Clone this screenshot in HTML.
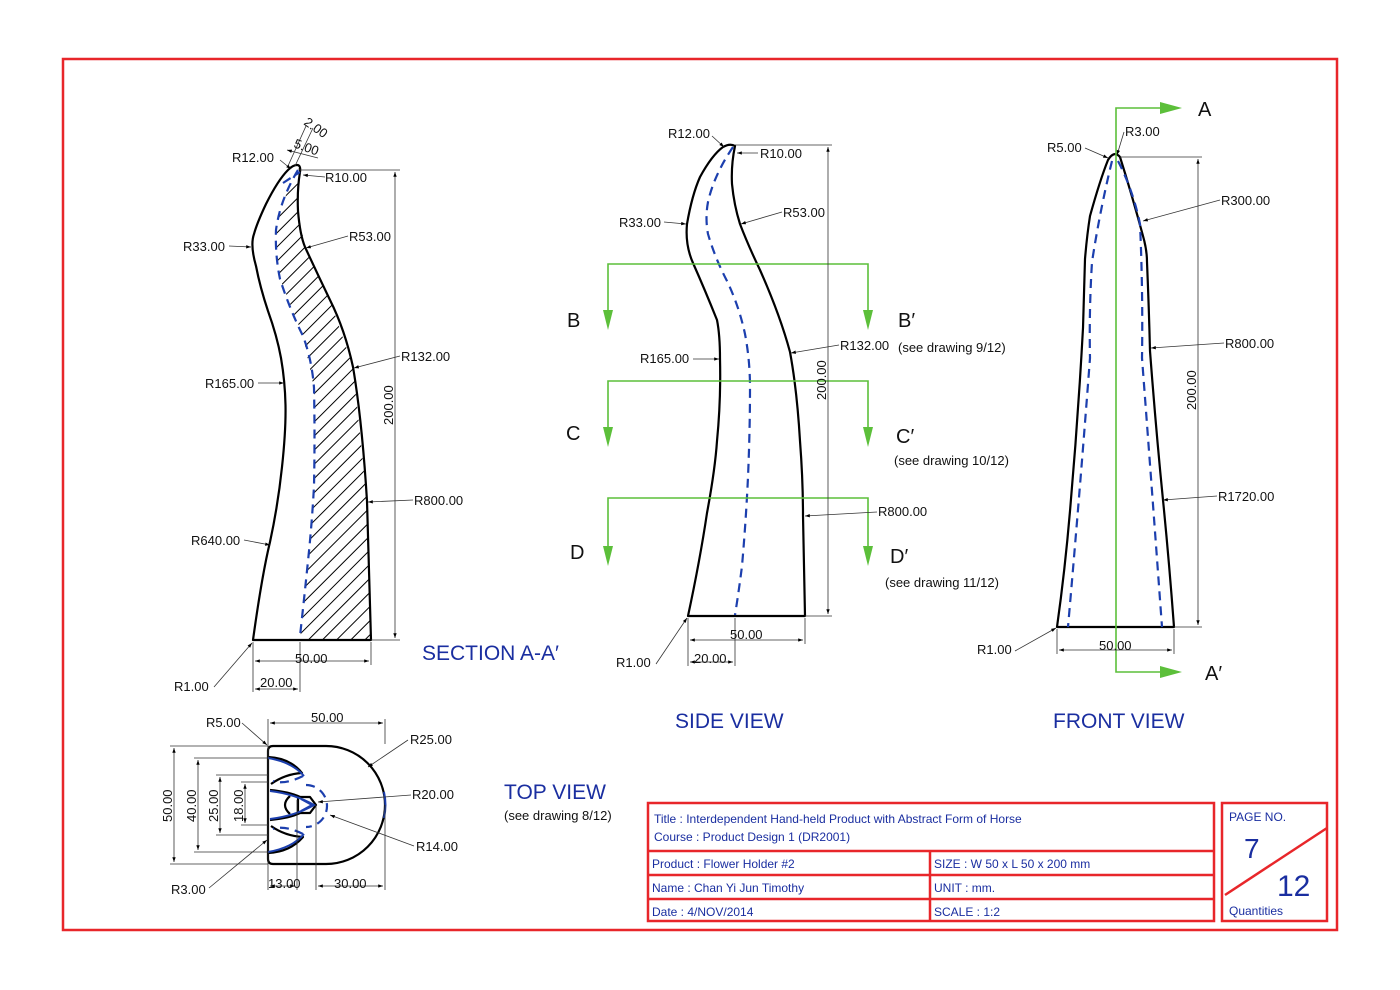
<!DOCTYPE html>
<html><head><meta charset="utf-8"><style>
html,body{margin:0;padding:0;background:#fff}
svg{display:block}
.d{font-family:"Liberation Sans",sans-serif;font-size:13px;fill:#111}
.t{font-family:"Liberation Sans",sans-serif;fill:#1a2ea0}
.k{fill:none;stroke:#000;stroke-width:2.2;stroke-linejoin:round}
.b{fill:none;stroke:#1c3fae;stroke-width:2.2;stroke-dasharray:9 6}
.l{fill:none;stroke:#333;stroke-width:0.8}
.g{fill:none;stroke:#5cbf3a;stroke-width:1.6}
.r{fill:none;stroke:#e8262a;stroke-width:2.5}
</style></head><body>
<svg width="1400" height="990" viewBox="0 0 1400 990" xmlns="http://www.w3.org/2000/svg">
<defs>
<marker id="a" viewBox="0 0 10 10" refX="10" refY="5" markerWidth="8" markerHeight="6" orient="auto-start-reverse"><path d="M0,1.5 L10,5 L0,8.5z" fill="#000"/></marker>
<pattern id="h" width="10" height="10" patternUnits="userSpaceOnUse" patternTransform="rotate(45)"><line x1="0" y1="0" x2="0" y2="10" stroke="#000" stroke-width="2"/></pattern>
<clipPath id="hc"><path d="M299,168 L286,195 L275,230 L280,279 L303,336 L314,388 L314,486 L308,561 L300,640 L371,640 L367,501 L353,367 L330,300 L305,247 L298,211 L300,168Z"/></clipPath>
</defs>
<rect x="63" y="59" width="1274" height="871" class="r" stroke-width="2"/>

<!-- SECTION A-A' -->
<rect x="240" y="150" width="150" height="500" fill="url(#h)" clip-path="url(#hc)"/>
<path class="k" d="M253,640 Q262,575 270,542 Q278,505 282,467 Q286,430 285.5,405 Q285,381 281,358 Q277,336 268,311 Q260,287 256,266 Q250,245 254,234 Q257,223 266,204 Q278,180 288,170 Q293,165 297,165 Q301,165 300,172 Q297,190 298,211 Q300,235 305,247 Q317,273 330,300 Q345,330 353,367 Q362,420 367,501 L371,640 Z"/>
<path class="b" d="M298,170 Q280,200 276,230 Q275,255 280,279 Q290,310 303,336 Q312,360 314,388 Q315,437 314,486 Q312,523 308,561 Q304,600 300,636"/>
<path class="b" d="M283,183 L300,172" stroke-dasharray="5 3"/>
<g class="l">
<line x1="300" y1="170" x2="400" y2="170"/><line x1="371" y1="640" x2="400" y2="640"/>
<line x1="395" y1="172" x2="395" y2="638" marker-start="url(#a)" marker-end="url(#a)"/>
<line x1="253" y1="642" x2="253" y2="692"/><line x1="371" y1="642" x2="371" y2="665"/><line x1="300" y1="642" x2="300" y2="692"/>
<line x1="255" y1="661" x2="369" y2="661" marker-start="url(#a)" marker-end="url(#a)"/>
<line x1="255" y1="689" x2="298" y2="689" marker-start="url(#a)" marker-end="url(#a)"/>
<line x1="288" y1="166" x2="306" y2="126"/><line x1="295" y1="166" x2="313" y2="128"/>
<line x1="287" y1="150" x2="318" y2="158" marker-start="url(#a)"/>
<line x1="280" y1="160" x2="291" y2="169" marker-end="url(#a)"/>
<line x1="325" y1="177" x2="303" y2="175" marker-end="url(#a)"/>
<line x1="229" y1="246" x2="251" y2="247" marker-end="url(#a)"/>
<line x1="348" y1="236" x2="306" y2="248" marker-end="url(#a)"/>
<line x1="400" y1="356" x2="354" y2="368" marker-end="url(#a)"/>
<line x1="258" y1="383" x2="284" y2="383" marker-end="url(#a)"/>
<line x1="413" y1="500" x2="368" y2="502" marker-end="url(#a)"/>
<line x1="244" y1="540" x2="270" y2="545" marker-end="url(#a)"/>
<line x1="214" y1="687" x2="252" y2="643" marker-end="url(#a)"/>
</g>
<text class="d" x="232" y="162">R12.00</text>
<text class="d" x="325" y="182">R10.00</text>
<text class="d" x="183" y="251">R33.00</text>
<text class="d" x="349" y="241">R53.00</text>
<text class="d" x="401" y="361">R132.00</text>
<text class="d" x="205" y="388">R165.00</text>
<text class="d" x="414" y="505">R800.00</text>
<text class="d" x="191" y="545">R640.00</text>
<text class="d" x="174" y="691">R1.00</text>
<text class="d" x="295" y="663">50.00</text>
<text class="d" x="260" y="687">20.00</text>
<text class="d" transform="translate(393,425) rotate(-90)">200.00</text>
<text class="d" transform="translate(303,124) rotate(35)">2.00</text>
<text class="d" transform="translate(293,147) rotate(20)">5.00</text>
<text class="t" x="422" y="660" font-size="21">SECTION A-A′</text>

<!-- SIDE VIEW -->
<path class="k" d="M688,616 Q700,560 707,513 Q715,470 717,441 Q721,400 720,359 Q720,335 717,320 Q705,290 693,263 Q685,245 687,224 Q692,195 700,177 Q712,155 723,147 Q730,143 735,146 Q731,165 732,184 Q734,205 740,224 Q748,245 760,270 Q780,315 790,352 Q797,390 800,441 Q803,480 803,516 L805,616 Z"/>
<path class="b" d="M733,147 Q714,175 708,202 Q705,218 708,234 Q715,258 727,281 Q739,306 745,334 Q750,360 750,388 Q750,430 748,477 Q746,520 742,566 Q739,590 735,615"/>
<g class="g">
<polyline points="608,318 608,264 868,264 868,318"/>
<polyline points="608,436 608,381 868,381 868,436"/>
<polyline points="608,555 608,498 868,498 868,555"/>
</g>
<g fill="#5cbf3a">
<path d="M603,310 L613,310 L608,330Z"/><path d="M863,310 L873,310 L868,330Z"/>
<path d="M603,427 L613,427 L608,447Z"/><path d="M863,427 L873,427 L868,447Z"/>
<path d="M603,546 L613,546 L608,566Z"/><path d="M863,546 L873,546 L868,566Z"/>
</g>
<g class="l">
<line x1="735" y1="145" x2="832" y2="145"/><line x1="805" y1="616" x2="832" y2="616"/>
<line x1="828" y1="147" x2="828" y2="614" marker-start="url(#a)" marker-end="url(#a)"/>
<line x1="688" y1="618" x2="688" y2="666"/><line x1="805" y1="618" x2="805" y2="644"/><line x1="735" y1="618" x2="735" y2="666"/>
<line x1="690" y1="640" x2="803" y2="640" marker-start="url(#a)" marker-end="url(#a)"/>
<line x1="690" y1="662" x2="733" y2="662" marker-start="url(#a)" marker-end="url(#a)"/>
<line x1="712" y1="136" x2="724" y2="147" marker-end="url(#a)"/>
<line x1="758" y1="153" x2="737" y2="153" marker-end="url(#a)"/>
<line x1="664" y1="222" x2="686" y2="224" marker-end="url(#a)"/>
<line x1="782" y1="212" x2="741" y2="224" marker-end="url(#a)"/>
<line x1="693" y1="359" x2="719" y2="359" marker-end="url(#a)"/>
<line x1="839" y1="345" x2="791" y2="353" marker-end="url(#a)"/>
<line x1="877" y1="512" x2="805" y2="516" marker-end="url(#a)"/>
<line x1="656" y1="664" x2="687" y2="618" marker-end="url(#a)"/>
</g>
<text class="d" x="668" y="138">R12.00</text>
<text class="d" x="760" y="158">R10.00</text>
<text class="d" x="619" y="227">R33.00</text>
<text class="d" x="783" y="217">R53.00</text>
<text class="d" x="640" y="363">R165.00</text>
<text class="d" x="840" y="350">R132.00</text>
<text class="d" x="878" y="516">R800.00</text>
<text class="d" x="616" y="667">R1.00</text>
<text class="d" x="730" y="639">50.00</text>
<text class="d" x="694" y="663">20.00</text>
<text class="d" transform="translate(826,400) rotate(-90)">200.00</text>
<g style="fill:#111;font-family:'Liberation Sans',sans-serif" font-size="20">
<text x="567" y="327">B</text><text x="898" y="327">B′</text>
<text x="566" y="440">C</text><text x="896" y="443">C′</text>
<text x="570" y="559">D</text><text x="890" y="563">D′</text>
<text x="1198" y="116">A</text><text x="1205" y="680">A′</text>
</g>
<text class="d" x="898" y="352" font-size="12">(see drawing 9/12)</text>
<text class="d" x="894" y="465" font-size="12">(see drawing 10/12)</text>
<text class="d" x="885" y="587" font-size="12">(see drawing 11/12)</text>
<text class="t" x="675" y="728" font-size="21">SIDE VIEW</text>

<!-- FRONT VIEW -->
<path class="k" d="M1057,627 Q1065,570 1070,511 Q1078,420 1083,328 Q1084,290 1085,259 Q1087,235 1090,216 Q1100,180 1108,160 Q1114,150 1120,157 Q1132,195 1143,236 Q1147,250 1147,262 Q1149,310 1150,351 Q1156,430 1163,500 Q1169,560 1174,627 Z"/>
<path class="b" d="M1112,161 Q1100,210 1092,262 Q1089,310 1090,358 Q1080,490 1068,627"/>
<path class="b" d="M1118,161 Q1133,190 1140,224 Q1143,290 1142,358 Q1152,490 1162,627"/>
<g class="g" stroke-width="1.3">
<polyline points="1170,108 1116,108 1116,672 1170,672"/>
</g>
<g fill="#5cbf3a"><path d="M1160,102 L1182,108 L1160,114Z"/><path d="M1160,666 L1182,672 L1160,678Z"/></g>
<g class="l">
<line x1="1120" y1="157" x2="1202" y2="157"/><line x1="1174" y1="627" x2="1202" y2="627"/>
<line x1="1198" y1="159" x2="1198" y2="625" marker-start="url(#a)" marker-end="url(#a)"/>
<line x1="1057" y1="629" x2="1057" y2="654"/><line x1="1174" y1="629" x2="1174" y2="654"/>
<line x1="1059" y1="650" x2="1172" y2="650" marker-start="url(#a)" marker-end="url(#a)"/>
<line x1="1085" y1="148" x2="1108" y2="158" marker-end="url(#a)"/>
<line x1="1124" y1="132" x2="1117" y2="155" marker-end="url(#a)"/>
<line x1="1220" y1="200" x2="1143" y2="221" marker-end="url(#a)"/>
<line x1="1224" y1="343" x2="1151" y2="348" marker-end="url(#a)"/>
<line x1="1217" y1="496" x2="1163" y2="500" marker-end="url(#a)"/>
<line x1="1015" y1="651" x2="1056" y2="628" marker-end="url(#a)"/>
</g>
<text class="d" x="1047" y="152">R5.00</text>
<text class="d" x="1125" y="136">R3.00</text>
<text class="d" x="1221" y="205">R300.00</text>
<text class="d" x="1225" y="348">R800.00</text>
<text class="d" x="1218" y="501">R1720.00</text>
<text class="d" x="977" y="654">R1.00</text>
<text class="d" x="1099" y="650">50.00</text>
<text class="d" transform="translate(1196,410) rotate(-90)">200.00</text>
<text class="t" x="1053" y="728" font-size="21">FRONT VIEW</text>

<!-- TOP VIEW -->
<path class="k" d="M273,746 H326 A59,59 0 0 1 326,864 H273 Q268,864 268,859 V751 Q268,746 273,746Z"/>
<path class="k" stroke-width="2" d="M268,757 Q290,758 302,773 Q285,774 271,784 M270,790 Q290,792 300,797 M300,813 Q290,818 270,820 M271,826 Q285,836 303,837 Q290,852 268,853 M290,796 Q280,805 290,814"/>
<path class="k" stroke-width="1.5" d="M298,797 H310 L316,805 L310,813 H298Z"/>
<path fill="none" stroke="#1c3fae" stroke-width="2" d="M268,758 Q292,762 304,776 M270,791 Q295,794 314,805 Q295,816 270,819 M304,834 Q292,848 268,852 M301,799 L312,805 L301,811 M384,792 A59,59 0 0 1 384,818"/>
<path class="b" stroke-dasharray="7 5" d="M306,785 A21,21 0 1 1 306,827 M303,776 Q285,785 273,781 M303,834 Q285,825 273,829"/>
<g class="l">
<line x1="268" y1="744" x2="268" y2="890"/><line x1="385" y1="805" x2="385" y2="890"/><line x1="385" y1="744" x2="385" y2="719"/><line x1="268" y1="744" x2="268" y2="719"/>
<line x1="270" y1="723" x2="383" y2="723" marker-start="url(#a)" marker-end="url(#a)"/>
<line x1="170" y1="746" x2="268" y2="746"/><line x1="170" y1="864" x2="268" y2="864"/>
<line x1="174" y1="748" x2="174" y2="862" marker-start="url(#a)" marker-end="url(#a)"/>
<line x1="194" y1="758" x2="268" y2="758"/><line x1="194" y1="852" x2="268" y2="852"/>
<line x1="198" y1="760" x2="198" y2="850" marker-start="url(#a)" marker-end="url(#a)"/>
<line x1="216" y1="775" x2="268" y2="775"/><line x1="216" y1="835" x2="268" y2="835"/>
<line x1="220" y1="777" x2="220" y2="833" marker-start="url(#a)" marker-end="url(#a)"/>
<line x1="241" y1="782" x2="268" y2="782"/><line x1="241" y1="825" x2="268" y2="825"/>
<line x1="245" y1="784" x2="245" y2="823" marker-start="url(#a)" marker-end="url(#a)"/>
<line x1="297" y1="800" x2="297" y2="890"/><line x1="316" y1="805" x2="316" y2="890"/>
<line x1="270" y1="886" x2="295" y2="886" marker-start="url(#a)" marker-end="url(#a)"/>
<line x1="318" y1="886" x2="383" y2="886" marker-start="url(#a)" marker-end="url(#a)"/>
<line x1="242" y1="723" x2="267" y2="745" marker-end="url(#a)"/>
<line x1="408" y1="740" x2="368" y2="767" marker-end="url(#a)"/>
<line x1="411" y1="795" x2="318" y2="802" marker-end="url(#a)"/>
<line x1="414" y1="846" x2="330" y2="815" marker-end="url(#a)"/>
<line x1="209" y1="888" x2="267" y2="840" marker-end="url(#a)"/>
</g>
<text class="d" x="206" y="727">R5.00</text>
<text class="d" x="410" y="744">R25.00</text>
<text class="d" x="412" y="799">R20.00</text>
<text class="d" x="416" y="851">R14.00</text>
<text class="d" x="171" y="894">R3.00</text>
<text class="d" x="311" y="722">50.00</text>
<text class="d" x="268" y="888">13.00</text>
<text class="d" x="334" y="888">30.00</text>
<text class="d" transform="translate(172,822) rotate(-90)">50.00</text>
<text class="d" transform="translate(196,822) rotate(-90)">40.00</text>
<text class="d" transform="translate(218,822) rotate(-90)">25.00</text>
<text class="d" transform="translate(243,822) rotate(-90)">18.00</text>
<text class="t" x="504" y="799" font-size="21">TOP VIEW</text>
<text class="d" x="504" y="820" font-size="12">(see drawing 8/12)</text>

<!-- TITLE BLOCK -->
<rect x="648" y="803" width="566" height="118" class="r"/>
<line x1="648" y1="851" x2="1214" y2="851" class="r"/>
<line x1="648" y1="875" x2="1214" y2="875" class="r"/>
<line x1="648" y1="899" x2="1214" y2="899" class="r"/>
<line x1="930" y1="851" x2="930" y2="921" class="r"/>
<g class="t" font-size="12">
<text x="654" y="823">Title :  Interdependent Hand-held Product  with Abstract Form of Horse</text>
<text x="654" y="841">Course :  Product Design 1 (DR2001)</text>
<text x="652" y="868">Product :  Flower Holder #2</text>
<text x="652" y="892">Name : Chan Yi Jun Timothy</text>
<text x="652" y="916">Date :  4/NOV/2014</text>
<text x="934" y="868">SIZE : W 50 x L 50 x 200 mm</text>
<text x="934" y="892">UNIT : mm.</text>
<text x="934" y="916">SCALE :  1:2</text>
</g>
<rect x="1222" y="803" width="105" height="118" class="r"/>
<line x1="1225" y1="895" x2="1327" y2="828" class="r"/>
<text class="t" x="1229" y="821" font-size="12">PAGE NO.</text>
<text class="t" x="1244" y="858" font-size="28">7</text>
<text class="t" x="1277" y="896" font-size="30">12</text>
<text class="t" x="1229" y="915" font-size="12">Quantities</text>
</svg>
</body></html>
